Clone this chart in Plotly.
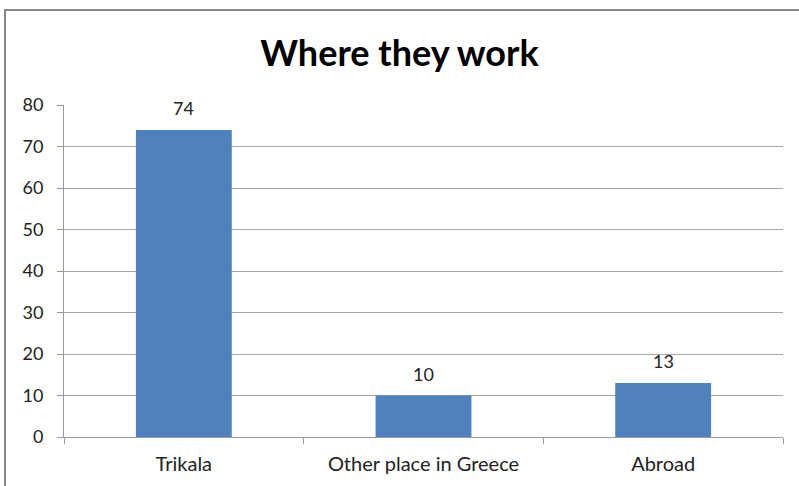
import plotly.graph_objects as go

categories = ["Trikala", "Other place in Greece", "Abroad"]
values = [74, 10, 13]
y_ticks = [0, 10, 20, 30, 40, 50, 60, 70, 80]

FONT = "Lato, Open Sans, sans-serif"

fig = go.Figure(go.Bar(
    x=categories, y=values,
    marker=dict(color="#4F81BD", line=dict(width=0)),
    hoverinfo="skip",
))

for c, v in zip(categories, values):
    fig.add_annotation(x=c, y=v, text=str(v), showarrow=False,
                       yanchor="bottom", yshift=9,
                       font=dict(family=FONT, size=18, color="#222"))

W, H = 799, 486
ml, mr, mt, mb = 64, 16, 105, 49
pw, ph = W - ml - mr, H - mt - mb

fig.update_layout(
    width=W, height=H,
    margin=dict(l=ml, r=mr, t=mt, b=mb, autoexpand=False),
    paper_bgcolor="white", plot_bgcolor="white",
    bargap=0.6,
    showlegend=False,
    title=dict(text="<b>Where they work</b>", x=0.5, xanchor="center",
               y=1 - 53 / H, yanchor="middle",
               font=dict(family=FONT, size=36, color="black")),
    font=dict(family=FONT, size=17, color="#222"),
)
fig.update_xaxes(
    automargin=False,
    showline=True, linecolor="#9a9a9a", linewidth=1,
    ticks="outside", tickson="boundaries", ticklen=6, tickcolor="#9a9a9a",
    ticklabelstandoff=9, showgrid=False,
    tickfont=dict(size=20),
)
fig.update_yaxes(
    automargin=False,
    range=[0, 80], tickvals=y_ticks,
    showline=True, linecolor="#9a9a9a", linewidth=1,
    ticks="outside", ticklen=6, tickcolor="#9a9a9a",
    ticklabelstandoff=10,
    showgrid=True, gridcolor="#a6a6a6", gridwidth=1,
    zeroline=False, tickfont=dict(size=18),
)
# chart frame
fig.add_shape(type="rect", xref="paper", yref="paper",
              x0=(5 - ml) / pw, x1=(W + 20 - ml) / pw,
              y0=-(H + 20 - (H - mb)) / ph, y1=((H - mb) - 10) / ph,
              line=dict(color="#888888", width=2), layer="below")

fig.write_html("out.html",
               config={"displayModeBar": False},
               post_script="document.body.style.margin='0';document.body.style.overflow='hidden';")
